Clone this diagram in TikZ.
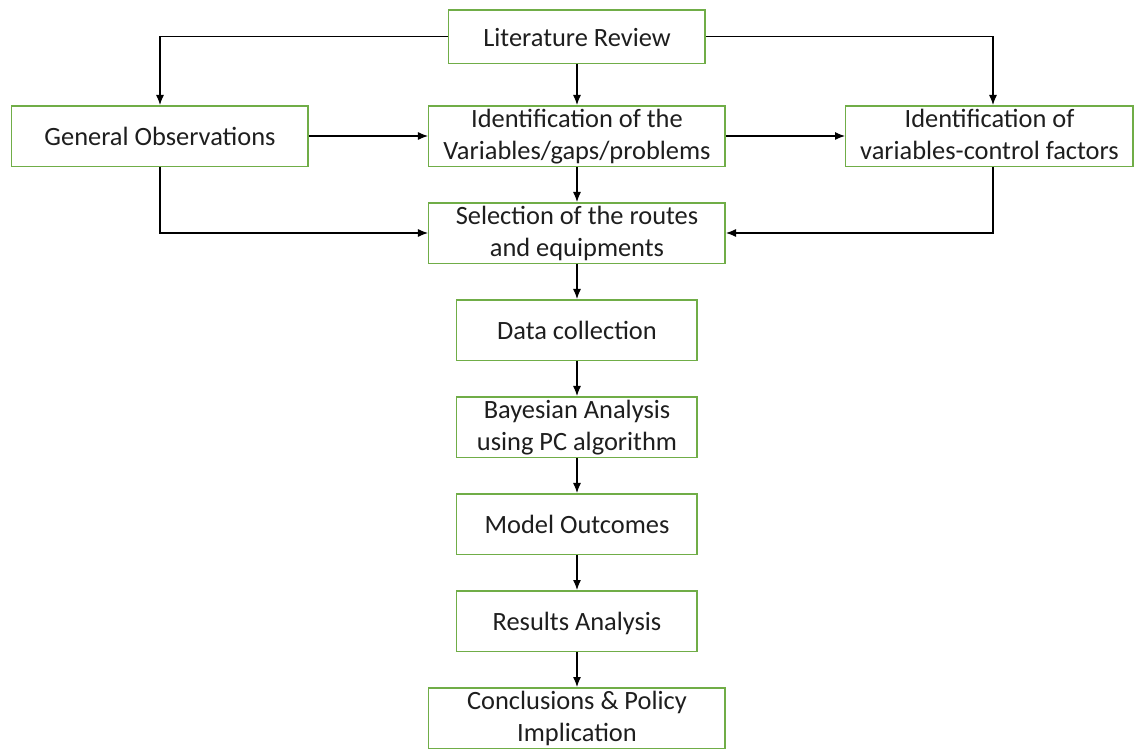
\documentclass[tikz,border=0pt]{standalone}
\usepackage{fontspec}
\setmainfont{Carlito}
\usepackage{xcolor}
\usetikzlibrary{shapes,arrows,arrows.meta,positioning}
\definecolor{boxgreen}{RGB}{112,173,71}
\definecolor{txtgray}{RGB}{30,30,30}

\begin{document}
\begin{tikzpicture}\fontsize{13.2}{16}\selectfont
\tikzstyle{block} = [rectangle, draw=boxgreen, line width=0.75pt, fill=white, text=txtgray, align=center, minimum width=148.25pt, minimum height=30.25pt, inner sep=1pt, text height=9.5pt, text depth=0pt]
\tikzstyle{twoline} = [block, text height=25.5pt, text depth=2.5pt]
\tikzstyle{short} = [block, minimum width=120.25pt]
\tikzstyle{line} = [draw, line width=0.6pt, -{Latex[length=5pt,width=4pt]}, black]

 \matrix [column sep=59.5pt,row sep=17.5pt]
	{
		% row 1
		& \node [block, minimum width=128.25pt, minimum height=26.75pt] (litrev) {Literature Review}; & \\[3pt]
		% row 2
		\node [block] (genobs) {General Observations}; &
		\node [twoline] (identvar) {Identification of the\\Variables/gaps/problems}; &
		\node [twoline, minimum width=143.75pt] (identctrl) {Identification of\\variables-control factors}; \\
		% row 3
		& \node [twoline] (select) {Selection of the routes\\and equipments}; & \\
		% rows 4 to 8
		& \node [short] (datacoll) {Data collection}; & \\
		& \node [twoline, minimum width=120.25pt] (bayes) {Bayesian Analysis\\using PC algorithm}; & \\
		& \node [short] (outcomes) {Model Outcomes}; & \\
		& \node [short] (results) {Results Analysis}; & \\
		& \node [twoline] (concl) {Conclusions \& Policy\\Implication}; & \\
	};

\tikzstyle{every path}=[line]
	\path (litrev) -| (genobs);
	\path (litrev) -| ([xshift=1.75pt]identctrl.north);
	\path (litrev) -- (identvar);
	\path (genobs) -- (identvar);
	\path (identvar) -- (identctrl);
	\path (genobs) |- (select);
	\path ([xshift=1.75pt]identctrl.south) |- (select);
	\path (identvar) -- (select);
	\path (select) -- (datacoll);
	\path (datacoll) -- (bayes);
	\path (bayes) -- (outcomes);
	\path (outcomes) -- (results);
	\path (results) -- (concl);

\tikzstyle{every path}=[]
\pgfresetboundingbox
\useasboundingbox ([shift={(-288.5pt,4.5pt)}]litrev.north) rectangle ++(567.5pt,-374.5pt);
\end{tikzpicture}
\end{document}
